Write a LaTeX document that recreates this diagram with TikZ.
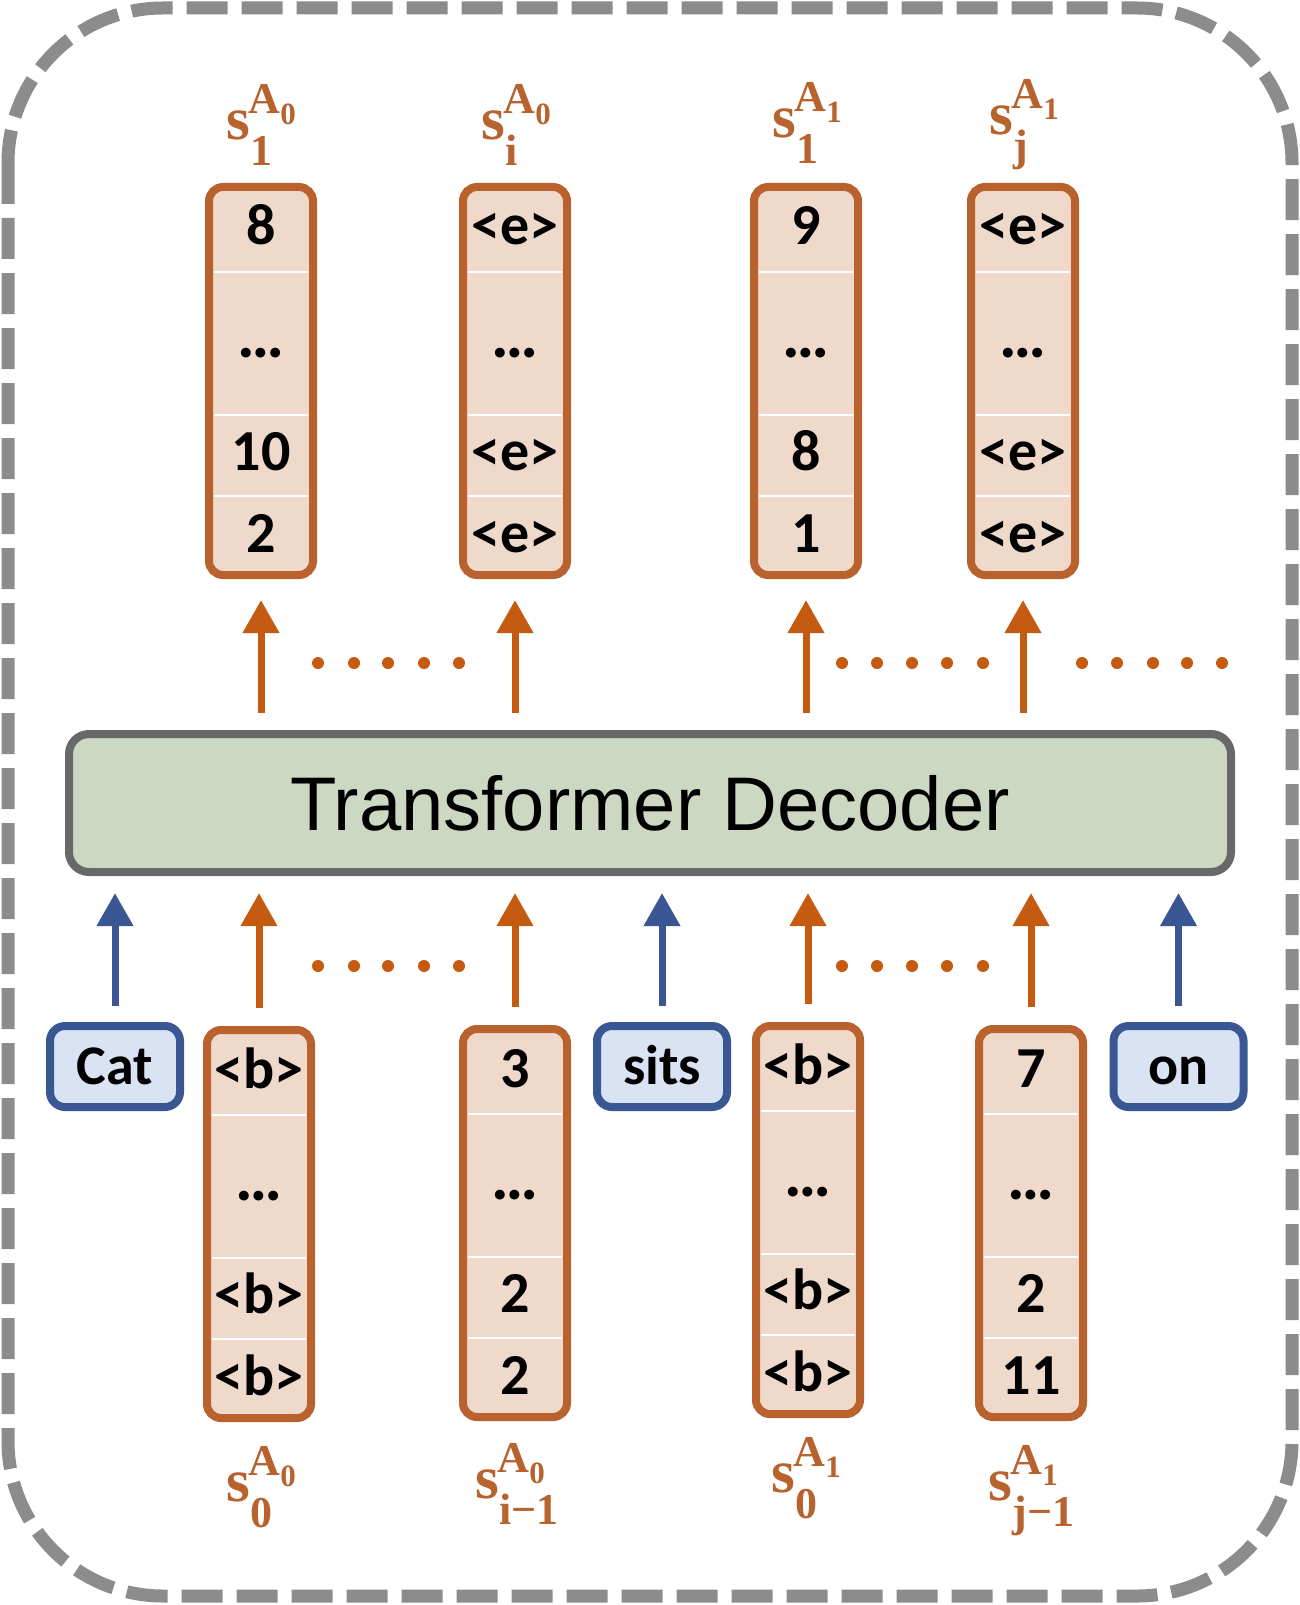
\documentclass[tikz,border=0pt]{standalone}
\usepackage{fontspec}
\usetikzlibrary{arrows.meta}
\newfontfamily\tokfont{Carlito}
\newfontfamily\decfont{Liberation Sans}
\newfontfamily\lblfont{Liberation Serif}
\definecolor{bordergray}{HTML}{8C8C8C}
\definecolor{stackor}{HTML}{B9622D}
\definecolor{stackfill}{HTML}{EFD9CA}
\definecolor{arrowor}{HTML}{C55A11}
\definecolor{lblor}{HTML}{B8622E}
\definecolor{bluec}{HTML}{3A5794}
\definecolor{bluefill}{HTML}{DAE3F3}
\definecolor{decfill}{HTML}{CCD8C1}
\definecolor{decborder}{HTML}{686868}
\newcommand\slabel[2]{%
  \lblfont\bfseries
  \makebox[0pt][l]{\fontsize{30.5pt}{30.5pt}\selectfont s}%
  \makebox[0pt][l]{\hspace{11pt}\raisebox{13pt}{\fontsize{22pt}{22pt}\selectfont A}}%
  \makebox[0pt][l]{\hspace{27pt}\raisebox{7.5pt}{\fontsize{15.5pt}{15.5pt}\selectfont #1}}%
  \makebox[0pt][l]{\hspace{12pt}\raisebox{-13pt}{\fontsize{22pt}{22pt}\selectfont #2}}%
  \hspace{35pt}}
\newcommand\tokstack[7]{%
  \node[stackbox] (#1) at (#2,#3+198) {};
  \foreach \dy in {89,232,313}{\draw[sepline] (#2-47,#3+\dy) -- (#2+47,#3+\dy);}
  \node[tok,anchor=base] (#1a) at (#2,#3+62) {#4};
  \node[tok,font=\tokfont\bfseries\fontsize{33pt}{33pt}\selectfont] (#1b) at (#2,#3+170) {#5};
  \node[tok,anchor=base] (#1c) at (#2,#3+287) {#6};
  \node[tok,anchor=base] (#1d) at (#2,#3+369) {#7};
}
\begin{document}
\begin{tikzpicture}[x=0.5pt,y=-0.5pt,
  stackbox/.style={draw=stackor, fill=stackfill, line width=4pt, rounded corners=7pt,
    minimum width=52pt, minimum height=194pt, inner sep=0pt},
  sepline/.style={draw=white, line width=1.2pt},
  tok/.style={font=\tokfont\bfseries\fontsize{29pt}{29pt}\selectfont, inner sep=0pt},
  wordbox/.style={draw=bluec, fill=bluefill, line width=4pt, rounded corners=7.5pt,
    minimum width=65pt, minimum height=40.5pt, inner sep=0pt, text height=18pt, text depth=0pt,
    font=\tokfont\bfseries\fontsize{28pt}{28pt}\selectfont},
  decbox/.style={draw=decborder, fill=decfill, line width=4pt, rounded corners=10pt,
    minimum width=581pt, minimum height=69pt, inner sep=0pt,
    font=\decfont\fontsize{38pt}{38pt}\selectfont},
  oarrow/.style={draw=arrowor, line width=3.5pt, -{Triangle[width=17.5pt,length=16.5pt]}},
  barrow/.style={draw=bluec, line width=3.5pt, -{Triangle[width=17.5pt,length=16.5pt]}},
  lbl/.style={anchor=base west, inner sep=0pt, text=lblor},
  dotc/.style={fill=arrowor},
  outerborder/.style={draw=bordergray, line width=6.5pt, dash pattern=on 20.5pt off 7pt, rounded corners=77.5pt}
]
\fill[white] (0,0) rectangle (1300,1605);
\useasboundingbox (0,0) rectangle (1300,1605);
\draw[outerborder] (8,8) rectangle (1292,1596);

% decoder
\node[decbox] (dec) at (650,803) {Transformer Decoder};

% top stacks
\tokstack{t1}{261}{183}{8}{…}{10}{2}
\tokstack{t2}{515}{183}{<e>}{…}{<e>}{<e>}
\tokstack{t3}{806}{183}{9}{…}{8}{1}
\tokstack{t4}{1023}{183}{<e>}{…}{<e>}{<e>}

% bottom stacks
\tokstack{b1}{259}{1026}{<b>}{…}{<b>}{<b>}
\tokstack{b2}{515}{1025}{3}{…}{2}{2}
\tokstack{b3}{808}{1022}{<b>}{…}{<b>}{<b>}
\tokstack{b4}{1031}{1025}{7}{…}{2}{11}

% word boxes
\node[wordbox] (cat) at (115,1066.5) {Cat};
\node[wordbox] (sits) at (662,1066.5) {sits};
\node[wordbox] (on) at (1178.5,1066.5) {on};

% labels
\node[lbl] (lt1) at (225,140) {\slabel{0}{1}};
\node[lbl] (lt2) at (480,140) {\slabel{0}{i}};
\node[lbl] (lt3) at (771,138) {\slabel{1}{1}};
\node[lbl] (lt4) at (988,135) {\slabel{1}{j}};
\node[lbl] (lb1) at (225,1501) {\slabel{0}{0}};
\node[lbl] (lb2) at (474,1498) {\slabel{0}{i−1}};
\node[lbl] (lb3) at (770,1492) {\slabel{1}{0}};
\node[lbl] (lb4) at (987,1500) {\slabel{1}{j−1}};

% arrows up from decoder
\foreach \s in {t1,t2,t3,t4}{
  \draw[oarrow, shorten <=8.5pt, shorten >=10.5pt] (dec.north -| \s) -- (\s.south);
}
% arrows into decoder
\foreach \s in {cat,sits,on}{
  \draw[barrow, shorten <=8pt, shorten >=8.5pt] (\s.north) -- (dec.south -| \s);
}
\foreach \s in {b1,b2,b3,b4}{
  \draw[oarrow, shorten <=9pt, shorten >=8.5pt] (\s.north) -- (dec.south -| \s);
}

% dotted ellipses
\foreach \x in {318,354,388,424,459,842,877,912,947,983,1082,1117,1153,1187,1222}{
  \fill[dotc] (\x,663) circle[radius=3pt];
}
\foreach \x in {318,354,388,424,459,842,877,912,947,983}{
  \fill[dotc] (\x,966) circle[radius=3pt];
}
\end{tikzpicture}
\end{document}
